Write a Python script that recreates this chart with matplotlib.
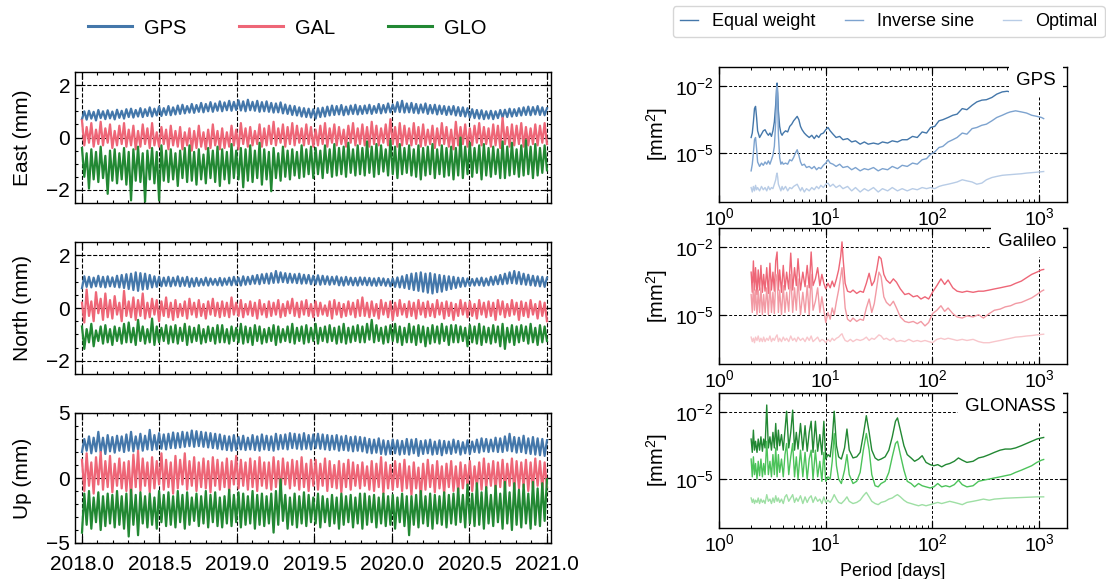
import numpy as np
import matplotlib
matplotlib.use('Agg')
import matplotlib.pyplot as plt
from matplotlib.ticker import MultipleLocator, FixedLocator, LogLocator, NullLocator, NullFormatter, LogFormatterSciNotation, FormatStrFormatter

# ---------------- time series data (mm), evenly sampled 2018.0 .. 2021.0 ----------------
E_GPS = [
0.70,1.00,0.68,1.02,0.72,0.98,0.65,1.05,0.74,1.00,0.70,1.04,0.73,0.99,0.69,1.06,0.75,1.02,0.72,1.08,
0.78,1.10,0.76,1.05,0.80,1.12,0.78,1.08,0.82,1.15,0.80,1.10,0.84,1.18,0.82,1.12,0.86,1.20,0.85,1.15,
0.88,1.22,0.90,1.25,0.92,1.20,0.95,1.28,0.94,1.24,0.98,1.32,0.96,1.28,1.00,1.35,0.98,1.30,1.02,1.38,
1.00,1.34,1.04,1.40,1.02,1.36,1.05,1.42,1.03,1.38,1.00,1.44,1.04,1.36,1.02,1.40,0.98,1.35,1.00,1.38,
0.98,1.32,0.95,1.30,0.96,1.34,0.92,1.26,0.90,1.22,0.86,1.20,0.84,1.15,0.80,1.12,0.78,1.10,0.76,1.08,
0.72,1.12,0.78,1.14,0.80,1.18,0.84,1.22,0.86,1.20,0.88,1.24,0.85,1.18,0.88,1.22,0.90,1.25,0.88,1.20,
0.90,1.22,0.92,1.25,0.90,1.20,0.94,1.28,0.92,1.24,0.95,1.30,0.96,1.26,0.98,1.35,0.97,1.40,0.95,1.30,
0.96,1.32,0.94,1.28,0.92,1.26,0.95,1.30,0.90,1.24,0.92,1.25,0.88,1.22,0.90,1.20,0.86,1.18,0.88,1.20,
0.84,1.16,0.82,1.15,0.80,1.12,0.76,1.08,0.74,1.05,0.72,1.04,0.70,1.00,0.72,1.02,0.70,1.00,0.74,1.05,
0.76,1.06,0.78,1.10,0.80,1.08,0.82,1.12,0.84,1.15,0.86,1.18,0.85,1.16,0.88,1.20,0.86,1.15,0.85,1.12]
E_GAL = [
0.65,-0.30,0.40,-0.20,0.55,-0.35,0.30,-0.25,0.60,-0.30,0.35,-0.20,0.50,-0.40,0.25,-0.30,0.45,-0.25,0.55,-0.35,
0.30,-0.30,0.45,-0.45,0.25,-0.35,0.50,-0.25,0.35,-0.40,0.55,-0.30,0.20,-0.35,0.40,-0.25,0.30,-0.45,0.45,-0.30,
0.25,-0.35,0.40,-0.45,0.20,-0.30,0.35,-0.50,0.25,-0.40,0.45,-0.35,0.20,-0.45,0.30,-0.40,0.50,-0.30,0.25,-0.45,
0.35,-0.40,0.20,-0.35,0.45,-0.30,0.30,-0.45,0.55,-0.25,0.35,-0.35,0.40,-0.30,0.25,-0.25,0.50,-0.35,0.35,-0.30,
0.45,-0.25,0.60,-0.30,0.35,-0.20,0.50,-0.35,0.40,-0.25,0.55,-0.30,0.45,-0.20,0.35,-0.30,0.50,-0.25,0.40,-0.35,
0.30,-0.30,0.45,-0.25,0.55,-0.35,0.35,-0.20,0.50,-0.30,0.40,-0.25,0.30,-0.35,0.45,-0.20,0.55,-0.30,0.35,-0.25,
0.50,-0.30,0.40,-0.35,0.60,-0.25,0.45,-0.30,0.35,-0.20,0.50,-0.30,0.70,-0.25,0.40,-0.35,0.55,-0.30,0.45,-0.25,
0.35,-0.30,0.55,-0.25,0.40,-0.35,0.50,-0.30,0.30,-0.25,0.45,-0.40,0.35,-0.30,0.55,-0.25,0.40,-0.35,0.30,-0.45,
0.60,-0.30,0.40,-0.25,0.50,-0.35,0.35,-0.30,0.45,-0.20,0.55,-0.30,0.40,-0.25,0.35,-0.35,0.50,-0.30,0.45,-0.40,
0.75,-0.25,0.40,-0.35,0.50,-0.30,0.45,-0.25,0.55,-0.35,0.40,-0.30,0.35,-0.25,0.50,-0.30,0.45,-0.20,0.55,-0.25]
E_GLO = [
-0.40,-1.50,-0.60,-1.95,-0.45,-1.60,-0.55,-1.70,-0.35,-1.55,-0.70,-2.15,-0.50,-1.65,-0.45,-1.75,-0.60,-1.60,-0.40,-1.80,
-0.55,-2.40,-0.45,-1.65,-0.35,-1.70,-0.60,-2.45,-0.50,-1.60,-0.40,-1.75,-0.55,-2.40,-0.30,-1.65,-0.50,-1.70,-0.45,-1.60,
-0.60,-1.85,-0.50,-1.55,-0.40,-1.70,-0.30,-1.65,-0.55,-1.80,-0.45,-1.60,-0.65,-1.75,-0.40,-1.55,-0.50,-1.70,-0.35,-1.85,
-0.45,-1.60,-0.55,-1.75,-0.25,-1.55,-0.50,-1.60,-0.40,-1.90,-0.45,-1.65,-0.30,-1.70,-0.50,-1.55,-0.20,-1.80,-0.45,-1.60,
-0.55,-2.05,-0.40,-1.55,-0.60,-1.65,-0.35,-1.50,-0.50,-1.60,-0.45,-1.45,-0.55,-1.55,-0.30,-1.50,-0.45,-1.40,-0.35,-1.55,
-0.40,-1.40,-0.50,-1.55,-0.30,-1.35,-0.45,-1.50,-0.25,-1.45,-0.40,-1.40,-0.35,-1.50,-0.20,-1.35,-0.45,-1.45,-0.30,-1.40,
-0.40,-1.45,-0.15,-1.35,-0.35,-1.50,-0.25,-1.40,-0.30,-1.30,-0.45,-1.45,-0.10,-1.40,-0.35,-1.55,-0.25,-1.40,-0.40,-1.35,
-0.30,-1.45,-0.45,-1.50,-0.30,-1.60,-0.40,-1.45,-0.35,-1.40,-0.25,-1.55,-0.45,-1.40,-0.30,-1.50,-0.40,-1.45,-0.35,-1.60,
-0.40,-1.45,0.00,-1.55,-0.35,-1.40,-0.20,-1.50,-0.40,-1.35,-0.30,-1.60,-0.25,-1.45,-0.40,-1.50,-0.35,-1.40,-0.45,-1.55,
-0.15,-1.55,-0.35,-1.45,-0.20,-1.40,-0.45,-1.50,-0.30,-1.45,-0.10,-1.40,-0.35,-1.55,-0.25,-1.45,-0.40,-1.35,-0.30,-1.25]
N_GPS = [
0.75,1.20,0.80,1.18,0.78,1.15,0.82,1.22,0.80,1.18,0.78,1.20,0.82,1.16,0.80,1.22,0.78,1.25,0.76,1.28,
0.72,1.30,0.68,1.35,0.65,1.32,0.70,1.30,0.72,1.25,0.78,1.20,0.80,1.18,0.82,1.15,0.84,1.18,0.82,1.15,
0.85,1.20,0.82,1.15,0.84,1.18,0.80,1.12,0.82,1.14,0.84,1.10,0.86,1.15,0.85,1.12,0.88,1.10,0.86,1.14,
0.85,1.12,0.88,1.15,0.86,1.18,0.88,1.15,0.85,1.20,0.88,1.18,0.90,1.22,0.92,1.25,0.90,1.28,0.94,1.30,
0.92,1.32,0.95,1.40,0.96,1.35,0.98,1.32,0.95,1.30,0.96,1.28,0.94,1.30,0.92,1.26,0.93,1.25,0.90,1.22,
0.90,1.24,0.88,1.22,0.90,1.20,0.88,1.18,0.90,1.20,0.86,1.16,0.85,1.18,0.88,1.15,0.86,1.14,0.85,1.16,
0.88,1.15,0.86,1.14,0.85,1.12,0.84,1.14,0.86,1.12,0.84,1.10,0.82,1.12,0.80,1.16,0.78,1.20,0.76,1.25,
0.72,1.30,0.68,1.32,0.65,1.35,0.62,1.30,0.58,1.32,0.55,1.28,0.60,1.25,0.62,1.22,0.68,1.20,0.72,1.18,
0.76,1.15,0.80,1.14,0.82,1.12,0.84,1.10,0.85,1.12,0.86,1.15,0.84,1.12,0.86,1.18,0.88,1.20,0.90,1.25,
0.90,1.30,0.92,1.35,0.94,1.40,0.92,1.36,0.90,1.30,0.88,1.26,0.86,1.22,0.84,1.20,0.82,1.18,0.80,1.15]
N_GAL = [
0.20,-0.55,0.70,-0.30,0.25,-0.50,0.60,-0.20,0.35,-0.45,0.55,-0.35,0.30,-0.40,0.45,-0.25,0.20,-0.50,0.65,-0.30,
0.25,-0.35,0.40,-0.45,0.30,-0.30,0.55,-0.40,0.20,-0.35,0.35,-0.25,0.30,-0.50,0.25,-0.30,0.40,-0.35,0.20,-0.45,
0.30,-0.35,0.15,-0.30,0.25,-0.40,0.35,-0.25,0.20,-0.35,0.30,-0.30,0.15,-0.40,0.25,-0.25,0.35,-0.30,0.20,-0.35,
0.25,-0.30,0.20,-0.35,0.40,-0.25,0.20,-0.30,0.30,-0.35,0.15,-0.25,0.25,-0.30,0.20,-0.40,0.30,-0.25,0.15,-0.35,
0.25,-0.30,0.20,-0.25,0.30,-0.35,0.15,-0.30,0.25,-0.20,0.35,-0.30,0.20,-0.35,0.25,-0.25,0.30,-0.30,0.15,-0.35,
0.25,-0.30,0.20,-0.25,0.10,-0.30,0.25,-0.40,0.30,-0.25,0.20,-0.35,0.15,-0.30,0.25,-0.25,0.20,-0.35,0.30,-0.30,
0.40,-0.30,0.20,-0.35,0.25,-0.30,0.15,-0.40,0.30,-0.25,0.20,-0.35,0.25,-0.45,0.20,-0.30,0.30,-0.25,0.15,-0.35,
0.25,-0.30,0.20,-0.40,0.30,-0.25,0.20,-0.35,0.25,-0.30,0.15,-0.35,0.30,-0.25,0.20,-0.40,0.25,-0.30,0.20,-0.45,
0.15,-0.30,0.30,-0.25,0.20,-0.35,0.25,-0.30,0.15,-0.40,0.30,-0.25,0.20,-0.35,0.25,-0.30,0.20,-0.45,0.30,-0.25,
0.25,-0.35,0.15,-0.30,0.30,-0.25,0.20,-0.45,0.25,-0.30,0.20,-0.35,0.30,-0.25,0.15,-0.40,0.25,-0.30,0.20,-0.50]
N_GLO = [
-0.70,-1.55,-0.80,-1.30,-0.60,-1.45,-0.85,-1.25,-0.70,-1.35,-0.65,-1.30,-0.80,-1.40,-0.70,-1.25,-0.75,-1.35,-0.60,-1.30,
-0.55,-1.30,-0.75,-1.40,-0.45,-1.25,-0.70,-1.35,-0.80,-1.30,-0.40,-1.40,-0.70,-1.30,-0.75,-1.25,-0.65,-1.35,-0.70,-1.30,
-0.65,-1.35,-0.75,-1.25,-0.60,-1.40,-0.70,-1.30,-0.75,-1.25,-0.65,-1.35,-0.80,-1.30,-0.70,-1.25,-0.75,-1.35,-0.65,-1.30,
-0.65,-1.30,-0.80,-1.35,-0.70,-1.25,-0.75,-1.30,-0.60,-1.35,-0.70,-1.30,-0.75,-1.40,-0.65,-1.25,-0.70,-1.35,-0.80,-1.30,
-0.75,-1.25,-0.65,-1.40,-0.70,-1.30,-0.80,-1.25,-0.70,-1.30,-0.60,-1.35,-0.75,-1.25,-0.70,-1.35,-0.65,-1.30,-0.75,-1.25,
-0.60,-1.35,-0.75,-1.25,-0.70,-1.30,-0.65,-1.25,-0.75,-1.35,-0.70,-1.30,-0.60,-1.35,-0.75,-1.30,-0.70,-1.25,-0.65,-1.30,
-0.70,-1.30,-0.60,-1.20,-0.45,-1.30,-0.65,-1.25,-0.75,-1.35,-0.70,-1.30,-0.65,-1.25,-0.60,-1.30,-0.70,-1.40,-0.75,-1.30,
-0.60,-1.30,-0.70,-1.40,-0.65,-1.30,-0.70,-1.45,-0.75,-1.35,-0.65,-1.30,-0.70,-1.35,-0.60,-1.25,-0.70,-1.40,-0.65,-1.30,
-0.65,-1.30,-0.70,-1.25,-0.75,-1.45,-0.65,-1.30,-0.70,-1.35,-0.60,-1.40,-0.70,-1.30,-0.75,-1.35,-0.65,-1.30,-0.70,-1.45,
-0.60,-1.55,-0.75,-1.30,-0.65,-1.40,-0.70,-1.30,-0.65,-1.25,-0.70,-1.35,-0.60,-1.30,-0.75,-1.40,-0.65,-1.30,-0.70,-1.25]
U_GPS = [
2.00,3.00,2.10,3.20,1.90,3.10,2.05,3.55,2.00,3.10,1.85,3.30,2.05,3.15,1.95,3.25,2.10,3.20,2.00,3.35,
2.10,3.55,2.05,3.20,2.15,3.40,2.10,3.25,2.20,3.70,2.15,3.30,2.20,3.45,2.25,3.35,2.20,3.40,2.30,3.50,
2.30,3.45,2.35,3.55,2.40,3.50,2.45,3.65,2.40,3.60,2.45,3.55,2.40,3.50,2.35,3.45,2.30,3.40,2.25,3.35,
2.20,3.25,2.15,3.20,2.10,3.30,2.15,3.15,2.20,3.25,2.15,3.10,2.20,3.30,2.15,3.20,2.10,3.35,2.20,3.25,
2.15,3.20,2.10,3.40,2.20,3.30,2.25,3.35,2.20,3.45,2.30,3.40,2.25,3.35,2.20,3.45,2.25,3.30,2.20,3.35,
2.30,3.40,2.25,3.35,2.20,3.30,2.15,3.25,2.20,3.30,2.10,3.20,2.15,3.25,2.10,3.15,2.05,3.20,2.10,3.15,
2.05,3.10,1.95,3.00,1.90,2.95,1.95,3.05,1.85,2.90,1.80,2.85,1.85,2.95,1.90,2.90,1.80,2.85,1.85,3.00,
1.80,2.95,1.90,3.00,1.70,2.85,1.85,2.90,1.90,2.95,1.80,2.80,1.85,2.90,1.75,2.85,1.90,2.80,1.85,2.95,
1.95,2.85,1.80,2.75,1.90,2.90,1.85,2.80,2.00,2.95,1.95,3.05,2.05,3.00,2.00,2.95,2.05,3.10,2.00,3.05,
2.00,3.20,2.10,3.40,2.05,3.15,1.95,3.10,2.00,3.25,1.90,3.05,1.85,3.15,1.80,3.05,1.75,3.00,1.70,2.90]
U_GAL = [
1.40,-1.00,1.90,-0.60,1.20,-1.20,1.60,-0.50,2.00,-0.90,1.30,-0.70,1.70,-1.10,1.10,-0.60,1.50,-0.80,1.20,-1.00,
1.30,-1.50,1.80,-0.70,2.10,-1.00,1.50,-0.60,1.20,-1.10,1.60,-0.80,1.30,-0.50,1.90,-0.90,1.40,-0.70,1.20,-1.20,
1.70,-0.80,1.40,-0.50,1.90,-0.90,1.30,-0.60,1.60,-1.00,1.20,-0.70,1.50,-0.80,1.30,-1.10,1.60,-0.60,1.40,-0.90,
1.20,-0.70,1.50,-1.10,1.30,-0.50,1.70,-0.80,1.40,-0.60,1.20,-0.90,1.50,-0.70,1.30,-1.00,1.60,-0.60,1.20,-0.80,
1.20,-0.90,1.60,-0.70,1.30,-1.10,1.50,-0.50,1.20,-0.80,1.40,-0.60,1.30,-0.90,1.60,-0.70,1.10,-1.00,1.40,-0.60,
1.40,-0.90,1.10,-0.60,1.50,-1.00,1.30,-0.70,1.00,-0.80,1.30,-1.10,1.10,-0.70,1.40,-0.90,1.20,-0.60,1.00,-0.80,
1.20,-0.60,0.90,-0.90,1.30,-1.00,1.10,-0.70,1.60,-1.20,1.20,-0.80,1.00,-0.90,1.30,-0.70,1.10,-1.00,1.40,-0.80,
0.90,-1.30,1.20,-0.80,0.80,-1.50,1.10,-0.90,1.40,-0.70,1.00,-1.10,1.30,-0.80,0.90,-1.20,1.10,-0.70,1.30,-1.00,
0.90,-1.10,1.20,-0.80,1.00,-0.60,1.30,-1.00,0.90,-0.70,1.20,-0.90,1.50,-0.80,1.10,-0.60,1.30,-1.00,1.20,-0.70,
1.40,-0.90,1.10,-0.60,1.50,-1.00,1.30,-0.80,1.20,-0.70,1.40,-1.00,1.20,-0.80,1.50,-0.60,1.30,-0.90,1.20,-0.70]
U_GLO = [
-4.20,-1.20,-3.60,-1.00,-3.90,-1.50,-3.40,-1.10,-4.00,-1.40,-3.70,-1.20,-3.50,-1.30,-3.80,-1.00,-3.60,-1.40,-3.90,-1.20,
-4.50,-0.90,-3.60,-1.30,-4.40,-1.10,-3.50,-1.40,-3.80,-1.20,-3.60,-1.50,-3.90,-1.00,-3.40,-1.30,-3.70,-1.10,-3.60,-1.40,
-3.80,-1.00,-3.40,-1.30,-3.90,-1.10,-3.60,-1.50,-3.30,-1.20,-3.70,-1.40,-3.50,-1.00,-3.80,-1.30,-3.40,-1.10,-3.70,-1.50,
-3.80,-1.40,-3.50,-0.90,-3.70,-1.30,-3.40,-1.10,-3.80,-1.20,-3.60,-1.40,-3.50,-1.00,-3.90,-1.30,-3.60,-1.20,-3.70,-1.40,
-3.50,-1.20,-4.20,-1.00,-3.60,-0.10,-3.30,-1.30,-3.90,-1.50,-3.60,-1.20,-3.80,-1.40,-3.50,-1.10,-3.70,-1.30,-3.40,-1.50,
-3.50,-1.20,-3.80,-1.40,-3.40,-1.60,-3.70,-1.30,-3.50,-1.50,-3.90,-1.20,-3.60,-1.40,-3.40,-1.30,-3.80,-1.50,-3.50,-1.20,
-3.90,-1.20,-3.60,-1.40,-3.40,-1.30,-3.80,-1.50,-3.50,-1.20,-3.70,-1.40,-3.60,-1.30,-3.90,-1.50,-3.40,-1.20,-3.70,-1.40,
-4.40,-1.40,-3.60,-1.30,-3.80,-1.00,-3.50,-1.40,-3.70,-1.20,-3.90,-1.30,-3.50,-1.40,-3.60,-1.10,-3.80,-1.30,-3.50,-1.20,
-3.60,-0.80,-3.40,-1.30,-3.80,-0.50,-3.50,-1.20,-3.70,-0.40,-3.60,-1.10,-3.90,-0.70,-3.50,-1.30,-3.70,-0.60,-3.40,-1.20,
-3.90,-0.30,-3.50,-1.10,-4.00,-0.40,-3.60,-0.90,-3.80,-0.50,-3.50,-1.20,-3.90,-0.30,-3.60,-0.80,-3.70,-0.40,-3.30,-0.10]

T_START, T_END = 2018.0, 2021.0
YEAR_TICKS = [2018.0, 2018.5, 2019.0, 2019.5, 2020.0, 2020.5, 2021.0]
SYS_LABELS = ['GPS', 'GAL', 'GLO']
COMP_LABELS = ['East (mm)', 'North (mm)', 'Up (mm)']

# ---------------- spectra data (periods in days, log10 PSD in mm^2) ----------------
nan = np.nan
P_GPS = [
2.0, 2.05, 2.1, 2.15, 2.2, 2.25, 2.3, 2.4, 2.5, 2.6,
2.7, 2.8, 2.9, 3.0, 3.1, 3.2, 3.3, 3.4, 3.45, 3.5,
3.55, 3.6, 3.7, 3.8, 3.9, 4.0, 4.2, 4.4, 4.6, 4.8,
5.0, 5.2, 5.4, 5.6, 5.8, 6.0, 6.3, 6.6, 7.0, 7.4,
7.8, 8.2, 8.6, 9.0, 9.5, 10.0, 10.5, 11.0, 11.7, 12.5,
13.5, 14.5, 16, 17.5, 19, 21, 23, 25, 28, 31,
34, 38, 42, 47, 52, 58, 65, 72, 80, 88,
96, 105, 115, 125, 140, 155, 170, 190, 210, 235,
260, 290, 320, 360, 400, 450, 500, 535, 600, 680,
760, 850, 950, 1050, 1100]
GPS_EW = [
-4.3, -4.1, -3.6, -3.0, -2.9, -3.4, -4.0, -4.3, -4.15, -4.0,
-3.95, -4.1, -4.2, -4.1, -4.25, -4.0, -3.6, -2.8, -2.2, -1.85,
-2.3, -3.1, -3.8, -4.1, -4.2, -4.1, -4.0, -4.05, -3.8, -3.7,
-3.55, -3.45, -3.35, -3.5, -3.8, -3.95, -4.1, -4.2, -4.3, -4.2,
-4.35, -4.2, -4.3, -4.15, -4.1, -3.95, -3.85, -4.0, -4.15, -4.3,
-4.25, -4.4, -4.35, -4.5, -4.45, -4.6, -4.5, -4.6, -4.55, -4.6,
-4.5, -4.55, -4.45, -4.5, -4.4, -4.4, -4.25, -4.3, -4.05, -4.1,
-3.85, -3.8, -3.55, -3.5, -3.4, -3.3, -3.25, -3.0, -3.05, -2.85,
-2.7, -2.62, -2.6, -2.5, -2.35, -2.25, -2.22, -2.25, nan, nan,
nan, nan, nan, nan, nan]
GPS_IS = [
-5.8, -5.5, -5.0, -4.4, -4.3, -4.8, -5.4, -5.6, -5.45, -5.55,
-5.4, -5.5, -5.35, -5.5, -5.3, -5.1, -4.7, -3.6, -2.6, -2.0,
-2.8, -4.2, -5.2, -5.5, -5.4, -5.5, -5.45, -5.5, -5.3, -5.35,
-5.2, -5.0, -4.85, -5.1, -5.4, -5.55, -5.5, -5.65, -5.6, -5.7,
-5.6, -5.75, -5.65, -5.7, -5.55, -5.45, -5.3, -5.45, -5.5, -5.6,
-5.5, -5.65, -5.6, -5.75, -5.65, -5.8, -5.7, -5.75, -5.65, -5.8,
-5.7, -5.75, -5.6, -5.7, -5.55, -5.6, -5.45, -5.5, -5.3, -5.25,
-5.05, -4.95, -4.75, -4.7, -4.5, -4.4, -4.3, -4.1, -4.15, -3.9,
-3.85, -3.75, -3.7, -3.55, -3.4, -3.3, -3.2, -3.15, -3.1, -3.15,
-3.2, -3.3, -3.35, -3.4, -3.45]
GPS_OPT = [
-6.55, -6.75, -6.5, -6.7, -6.45, -6.65, -6.55, -6.7, -6.5, -6.65,
-6.55, -6.7, -6.5, -6.65, -6.55, -6.6, -6.4, -6.2, -6.0, -5.9,
-6.1, -6.4, -6.55, -6.7, -6.5, -6.65, -6.5, -6.7, -6.55, -6.6,
-6.5, -6.45, -6.4, -6.55, -6.7, -6.55, -6.75, -6.6, -6.7, -6.55,
-6.65, -6.5, -6.6, -6.45, -6.55, -6.4, -6.35, -6.5, -6.4, -6.55,
-6.45, -6.6, -6.5, -6.7, -6.55, -6.75, -6.6, -6.7, -6.55, -6.75,
-6.6, -6.7, -6.55, -6.7, -6.6, -6.7, -6.6, -6.65, -6.55, -6.6,
-6.55, -6.6, -6.5, -6.45, -6.4, -6.35, -6.3, -6.2, -6.25, -6.3,
-6.4, -6.35, -6.2, -6.1, -6.05, -6.0, -5.98, -5.97, -5.95, -5.93,
-5.9, -5.88, -5.86, -5.84, -5.83]

P_GAL = [
2.0, 2.05, 2.1, 2.15, 2.2, 2.27, 2.33, 2.4, 2.47, 2.55,
2.62, 2.7, 2.8, 2.9, 3.0, 3.1, 3.2, 3.3, 3.4, 3.5,
3.6, 3.7, 3.85, 4.0, 4.15, 4.3, 4.5, 4.7, 4.9, 5.1,
5.3, 5.5, 5.8, 6.1, 6.4, 6.7, 7.0, 7.3, 7.6, 8.0,
8.4, 8.8, 9.2, 9.6, 10.0, 10.5, 11.0, 11.5, 12.0, 12.6,
13.2, 13.8, 14.2, 14.6, 15.2, 16, 17, 18, 19.5, 21,
22.5, 24, 25.5, 27, 28.5, 30, 31.5, 33, 35, 37,
40, 43, 46, 50, 55, 60, 66, 72, 78, 85,
92, 100, 110, 120, 130, 140, 155, 170, 190, 210,
240, 270, 300, 340, 380, 430, 480, 540, 600, 680,
760, 850, 950, 1050, 1100]
GAL_EW = [
-3.1, -4.0, -2.6, -3.9, -2.9, -4.1, -3.0, -3.9, -2.8, -4.0,
-3.2, -3.95, -2.9, -4.05, -2.7, -3.9, -3.1, -3.95, -2.6, -2.2,
-3.9, -3.0, -4.0, -2.8, -3.9, -3.1, -3.85, -2.25, -3.9, -2.9,
-3.7, -2.5, -3.9, -3.1, -3.75, -2.8, -3.8, -2.2, -3.7, -3.4,
-2.9, -3.7, -3.2, -3.6, -3.85, -3.6, -3.8, -3.5, -3.75, -3.4,
-3.0, -2.4, -1.75, -2.6, -3.6, -3.95, -4.0, -3.9, -4.05, -3.95,
-4.0, -3.6, -3.15, -3.7, -3.5, -3.0, -2.4, -2.5, -3.2, -3.45,
-3.6, -3.4, -3.55, -3.85, -4.1, -4.05, -4.2, -4.15, -4.3, -4.2,
-4.3, -4.0, -3.7, -3.4, -3.65, -3.45, -3.8, -3.95, -4.0, -3.95,
-4.0, -3.95, -3.95, -3.9, -3.85, -3.8, -3.75, -3.7, -3.6, -3.5,
-3.35, -3.2, -3.1, -3.0, -2.98]
GAL_IS = [
-4.1, -4.9, -3.6, -4.8, -3.9, -5.0, -3.9, -4.9, -3.8, -5.0,
-4.1, -4.9, -3.8, -5.0, -3.6, -4.9, -4.0, -4.95, -3.5, -3.2,
-4.9, -3.9, -5.0, -3.7, -4.9, -4.0, -4.85, -3.2, -4.9, -3.8,
-4.8, -3.4, -5.0, -4.0, -4.9, -3.7, -5.0, -3.2, -4.8, -4.4,
-3.8, -4.9, -4.2, -4.8, -5.35, -4.9, -5.2, -4.7, -5.0, -4.4,
-3.9, -3.3, -2.9, -3.6, -4.7, -5.2, -5.3, -5.15, -5.3, -5.2,
-5.25, -4.7, -4.3, -4.9, -4.5, -3.8, -3.1, -3.3, -4.2, -4.45,
-4.6, -4.4, -4.7, -5.1, -5.3, -5.35, -5.3, -5.4, -5.3, -5.5,
-5.35, -4.95, -4.8, -4.6, -4.85, -4.7, -4.95, -5.1, -5.15, -5.05,
-5.1, -5.0, -5.15, -4.95, -4.8, -4.75, -4.65, -4.6, -4.5, -4.45,
-4.35, -4.25, -4.1, -3.95, -3.9]
GAL_OPT = [
-6.0, -6.2, -6.05, -6.25, -6.0, -6.15, -5.95, -6.2, -6.05, -6.2,
-6.0, -6.2, -6.05, -6.15, -5.95, -6.2, -6.05, -6.15, -6.0, -5.9,
-6.2, -6.05, -6.2, -6.0, -6.15, -6.05, -6.2, -5.95, -6.15, -6.05,
-6.2, -6.0, -6.15, -6.05, -6.2, -6.0, -6.15, -5.95, -6.2, -6.1,
-6.0, -6.2, -6.1, -6.15, -6.25, -6.1, -6.2, -6.05, -6.15, -6.05,
-6.0, -5.9, -5.85, -6.0, -6.15, -6.2, -6.1, -6.2, -6.1, -6.15,
-6.1, -6.0, -6.15, -6.05, -6.1, -6.0, -5.9, -5.95, -6.1, -6.05,
-6.15, -6.05, -6.2, -6.15, -6.2, -6.1, -6.2, -6.15, -6.2, -6.15,
-6.2, -6.25, -6.1, -6.05, -6.1, -6.05, -6.1, -6.15, -6.1, -6.15,
-6.1, -6.2, -6.25, -6.25, -6.2, -6.15, -6.1, -6.05, -6.0, -5.98,
-5.95, -5.93, -5.9, -5.88, -5.87]

P_GLO = [
2.0, 2.05, 2.1, 2.15, 2.2, 2.27, 2.33, 2.4, 2.47, 2.55,
2.62, 2.7, 2.8, 2.9, 3.0, 3.1, 3.2, 3.3, 3.4, 3.5,
3.6, 3.7, 3.85, 4.0, 4.15, 4.3, 4.5, 4.7, 4.9, 5.1,
5.3, 5.5, 5.8, 6.1, 6.4, 6.7, 7.0, 7.3, 7.6, 8.0,
8.4, 8.8, 9.2, 9.6, 10.0, 10.5, 11.0, 11.5, 12.0, 12.6,
13.2, 14.0, 15.0, 15.8, 16.6, 18, 19.5, 21, 22.5, 24,
25.5, 27, 29, 31, 33, 36, 39, 42, 45, 47,
50, 54, 58, 63, 68, 74, 80, 87, 95, 103,
112, 122, 133, 145, 160, 175, 190, 210, 240, 270,
300, 340, 380, 430, 480, 540, 600, 680, 760, 850,
950, 1050, 1100]
GLO_EW = [
-3.2, -3.8, -2.8, -3.7, -3.3, -3.8, -3.2, -3.7, -3.1, -3.75,
-3.2, -3.6, -1.67, -3.6, -3.1, -3.7, -2.9, -3.6, -2.5, -3.7,
-2.8, -3.5, -3.0, -3.7, -2.8, -1.95, -3.6, -2.9, -1.9, -3.7,
-2.9, -3.65, -2.5, -3.7, -2.6, -3.75, -2.9, -2.4, -3.8, -2.4,
-3.75, -3.0, -3.9, -2.4, -4.1, -3.9, -4.0, -3.2, -1.95, -3.5,
-4.0, -4.1, -3.6, -2.75, -3.7, -4.05, -4.0, -3.8, -3.0, -2.15,
-2.9, -3.7, -4.05, -4.15, -4.1, -4.0, -3.7, -3.1, -2.4, -2.25,
-2.8, -3.5, -3.9, -4.05, -4.2, -4.1, -3.95, -4.25, -4.35, -4.4,
-4.35, -4.45, -4.35, -4.3, -4.2, -4.05, -4.15, -4.25, -4.2, -4.05,
-4.0, -3.9, -3.8, -3.7, -3.65, -3.65, -3.6, -3.5, -3.4, -3.3,
-3.2, -3.15, -3.13]
GLO_IS = [
-4.1, -4.9, -4.0, -4.8, -4.3, -5.0, -4.2, -4.85, -4.1, -4.9,
-4.3, -4.8, -3.3, -4.8, -4.2, -4.9, -3.9, -4.8, -3.6, -4.9,
-3.9, -4.7, -4.1, -4.9, -3.9, -3.4, -4.8, -4.0, -3.4, -4.9,
-4.0, -5.0, -3.7, -4.9, -3.8, -5.0, -4.1, -3.7, -5.0, -3.7,
-4.9, -4.2, -5.1, -3.8, -5.1, -4.9, -5.0, -4.2, -2.95, -4.4,
-5.0, -5.2, -4.6, -3.9, -4.8, -5.2, -5.1, -4.7, -3.7, -2.95,
-3.7, -4.8, -5.3, -5.35, -5.2, -5.1, -4.7, -4.0, -3.4, -3.3,
-3.9, -4.6, -5.1, -5.2, -5.35, -5.2, -5.3, -5.35, -5.4, -5.35,
-5.2, -5.35, -5.3, -5.35, -5.25, -5.05, -5.25, -5.35, -5.3, -5.1,
-5.05, -5.0, -4.95, -4.9, -4.85, -4.8, -4.7, -4.6, -4.5, -4.4,
-4.25, -4.15, -4.12]
GLO_OPT = [
-5.85, -6.05, -5.9, -6.1, -5.95, -6.05, -5.85, -6.1, -5.9, -6.05,
-5.95, -6.1, -5.7, -6.0, -5.9, -6.1, -5.85, -6.05, -5.75, -6.0,
-5.85, -6.05, -5.9, -6.1, -5.8, -5.7, -6.0, -5.85, -5.7, -6.05,
-5.85, -6.0, -5.75, -6.1, -5.8, -6.05, -5.85, -5.75, -6.05, -5.8,
-6.0, -5.9, -6.1, -5.8, -6.05, -5.95, -6.05, -5.9, -5.7, -5.9,
-6.05, -6.1, -5.95, -5.8, -6.0, -6.1, -6.05, -5.95, -5.75, -5.6,
-5.8, -6.0, -6.1, -6.15, -6.05, -6.0, -5.9, -5.85, -5.75, -5.7,
-5.8, -5.95, -6.05, -6.1, -6.15, -6.2, -6.15, -6.2, -6.15, -6.1,
-6.05, -6.1, -6.05, -6.0, -6.05, -6.1, -6.15, -6.05, -6.0, -5.95,
-5.9, -5.95, -5.9, -5.88, -5.86, -5.85, -5.84, -5.83, -5.82, -5.81,
-5.8, -5.8, -5.8]

PANEL_NAMES = ['GPS', 'Galileo', 'GLONASS']
METHOD_LABELS = ['Equal weight', 'Inverse sine', 'Optimal']

# ---------------- styling ----------------
plt.rcParams['font.family'] = ['Liberation Sans', 'DejaVu Sans']
plt.rcParams['mathtext.fontset'] = 'custom'
plt.rcParams['mathtext.rm'] = 'Liberation Sans'
plt.rcParams['mathtext.it'] = 'Liberation Sans:italic'
plt.rcParams['mathtext.bf'] = 'Liberation Sans:bold'
plt.rcParams['mathtext.default'] = 'regular'
plt.rcParams['axes.linewidth'] = 1.0
plt.rcParams['xtick.direction'] = 'in'
plt.rcParams['ytick.direction'] = 'in'
plt.rcParams['xtick.top'] = True
plt.rcParams['ytick.right'] = True

C_SYS = ['#4477AA', '#EE6677', '#228833']
C_SPEC = [['#4477AA', '#7DA3CF', '#B8CCE6'],
          ['#EE6677', '#F29AA4', '#F8C6CB'],
          ['#228833', '#4CC35A', '#9EDFA4']]

W, H = 1106, 579
fig = plt.figure(figsize=(W / 100, H / 100), dpi=100)

def px(l, t, r, b):
    return [l / W, 1 - b / H, (r - l) / W, (b - t) / H]

# ---------------- left: time series ----------------
left_boxes = [(75, 72, 551, 203), (75, 242, 551, 374), (75, 413, 551, 543)]
ts_data = [[E_GPS, E_GAL, E_GLO], [N_GPS, N_GAL, N_GLO], [U_GPS, U_GAL, U_GLO]]
ylims = [(-2.5, 2.5), (-2.5, 2.5), (-5, 5)]
ymaj = [2, 2, 5]
ymin = [0.5, 0.5, 1]
line_handles = []
for k in range(3):
    ax = fig.add_axes(px(*left_boxes[k]))
    for s in range(3):
        y = ts_data[k][s]
        t = np.linspace(T_START, T_END, len(y))
        ln, = ax.plot(t, y, color=C_SYS[s], lw=1.6, label=SYS_LABELS[s])
        if k == 0:
            line_handles.append(ln)
    ax.set_xlim(2017.955, 2021.026)
    ax.set_ylim(*ylims[k])
    ax.xaxis.set_major_locator(FixedLocator(YEAR_TICKS))
    ax.xaxis.set_minor_locator(MultipleLocator(0.1))
    ax.yaxis.set_major_locator(MultipleLocator(ymaj[k]))
    ax.yaxis.set_minor_locator(MultipleLocator(ymin[k]))
    ax.tick_params(which='major', length=5, width=0.9, labelsize=15)
    ax.tick_params(which='minor', length=2.5, width=0.8)
    ax.grid(True, which='major', ls='--', color='k', lw=0.8)
    ax.set_ylabel(COMP_LABELS[k], fontsize=15)
    ax.yaxis.set_label_coords(-0.09, 0.5)
    if k < 2:
        ax.tick_params(labelbottom=False)
    else:
        ax.xaxis.set_major_formatter(FormatStrFormatter('%.1f'))
        ax.tick_params(axis='x', which='major', pad=9)

leg1 = fig.legend(handles=line_handles, labels=SYS_LABELS, loc='center',
                  bbox_to_anchor=(287 / W, 1 - 28 / H), ncol=3, frameon=False,
                  fontsize=14.5, handlelength=2.2, columnspacing=2.6, handletextpad=0.6)
for h in leg1.get_lines():
    h.set_linewidth(2.2)

# ---------------- right: spectra ----------------
right_boxes = [(719, 67, 1067, 202), (719, 228, 1067, 364), (719, 393, 1067, 528)]
spec_P = [P_GPS, P_GAL, P_GLO]
spec_V = [[GPS_EW, GPS_IS, GPS_OPT], [GAL_EW, GAL_IS, GAL_OPT], [GLO_EW, GLO_IS, GLO_OPT]]
spec_handles = []
for k in range(3):
    ax = fig.add_axes(px(*right_boxes[k]))
    P = np.array(spec_P[k])
    for m in range(3):
        v = np.array(spec_V[k][m], dtype=float)
        ln, = ax.plot(P, 10 ** v, color=C_SPEC[k][m], lw=1.0, label=METHOD_LABELS[m])
        if k == 0:
            spec_handles.append(ln)
    ax.set_xscale('log')
    ax.set_yscale('log')
    ax.set_xlim(1, 1820)
    ax.set_ylim(10 ** -7.2, 10 ** -1.13)
    ax.xaxis.set_major_locator(FixedLocator([1, 10, 100, 1000]))
    ax.xaxis.set_minor_locator(LogLocator(base=10, subs=np.arange(2, 10), numticks=20))
    ax.xaxis.set_minor_formatter(NullFormatter())
    ax.xaxis.set_major_formatter(LogFormatterSciNotation())
    ax.yaxis.set_major_locator(FixedLocator([1e-5, 1e-2]))
    ax.yaxis.set_minor_locator(NullLocator())
    ax.yaxis.set_major_formatter(LogFormatterSciNotation())
    ax.tick_params(which='major', length=5, width=0.9, labelsize=14)
    ax.tick_params(which='minor', length=2.5, width=0.7)
    ax.grid(True, which='major', ls=(0, (3, 2)), color='k', lw=0.7)
    ax.set_ylabel('[mm$^2$]', fontsize=14.5)
    ax.yaxis.set_label_coords(-0.14, 0.5)
    ax.text(0.968, 0.9, PANEL_NAMES[k], transform=ax.transAxes, ha='right', va='center',
            fontsize=13.5, zorder=5,
            bbox=dict(facecolor='white', edgecolor='none', pad=5))
    if k == 2:
        ax.set_xlabel('Period [days]', fontsize=13, labelpad=6)

leg2 = fig.legend(handles=spec_handles, labels=METHOD_LABELS, loc='upper right',
                  bbox_to_anchor=(1105 / W, 1 - 6 / H), ncol=3, frameon=True,
                  fontsize=13, handlelength=1.0, columnspacing=1.6, handletextpad=0.8,
                  borderaxespad=0, borderpad=0.4, fancybox=True, edgecolor='0.8')
for h in leg2.get_lines():
    h.set_linewidth(1.0)

fig.savefig('out.png', dpi=100)
